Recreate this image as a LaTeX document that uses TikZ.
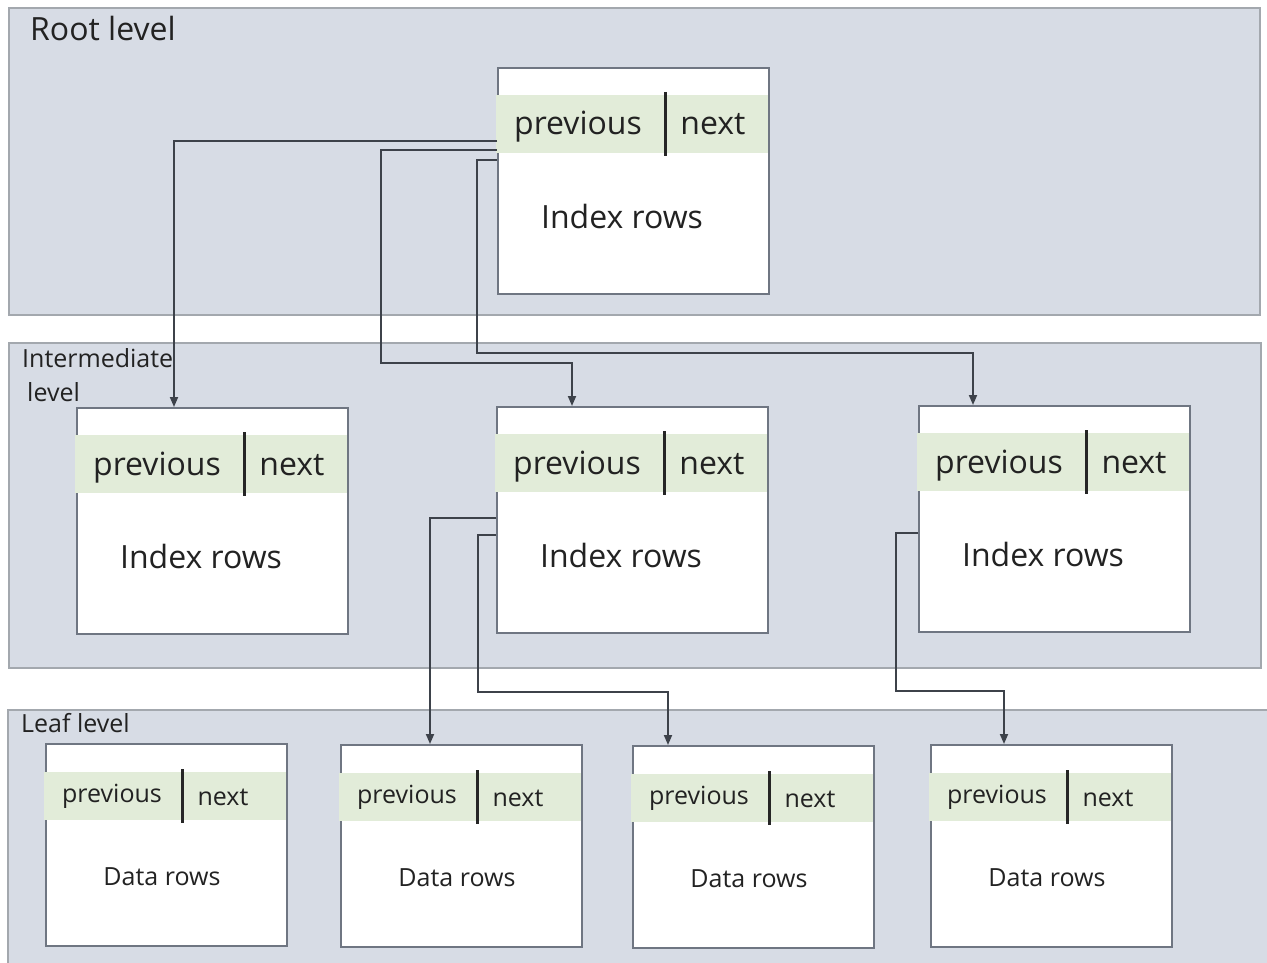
\documentclass[tikz,border=0pt]{standalone}
\usepackage{fontspec}
\setmainfont{Open Sans}
\usetikzlibrary{arrows.meta}
\definecolor{bandfill}{HTML}{D7DCE5}
\definecolor{bandline}{HTML}{A3A8AE}
\definecolor{boxline}{HTML}{6F7682}
\definecolor{stripgreen}{HTML}{E2ECD9}
\definecolor{txt}{HTML}{222222}
\definecolor{wire}{HTML}{3D424A}
\tikzset{
  band/.style={draw=bandline, line width=2, fill=bandfill},
  ibox/.style={draw=boxline, line width=1.8, fill=white, minimum width=271, minimum height=226, inner sep=0, anchor=north west},
  lbox/.style={draw=boxline, line width=1.8, fill=white, minimum width=241, minimum height=202, inner sep=0, anchor=north west},
  strip/.style={fill=stripgreen},
  divider/.style={draw=black!85, line width=3},
  bigtxt/.style={text=txt, font=\fontsize{32}{38}\selectfont, inner sep=0, text height=24pt, text depth=8pt},
  smalltxt/.style={text=txt, font=\fontsize{25}{30}\selectfont, inner sep=0, text height=19pt, text depth=6pt},
  leveltxt/.style={text=txt, inner sep=0, anchor=west},
  wirearrow/.style={draw=wire, line width=1.8, -{Triangle[length=10,width=8]}}
}
\newcommand\idxbox[3]{%
  \node[ibox] (#1) at (#2,#3) {};
  \fill[strip] ([xshift=-1.5,yshift=-28]#1.north west) rectangle ([xshift=-1.5,yshift=-86]#1.north east);
  \draw[divider] ([xshift=168,yshift=-25]#1.north west) -- ([xshift=168,yshift=-89]#1.north west);
  \node[bigtxt] (#1-prev) at ([xshift=81,yshift=-60]#1.north west) {previous};
  \node[bigtxt] (#1-next) at ([xshift=216,yshift=-60]#1.north west) {next};
  \node[bigtxt] (#1-body) at ([xshift=125,yshift=-153]#1.north west) {Index rows};
}
\newcommand\leafbox[3]{%
  \node[lbox] (#1) at (#2,#3) {};
  \fill[strip] ([xshift=-1.5,yshift=-29]#1.north west) rectangle ([xshift=-1.5,yshift=-77]#1.north east);
  \draw[divider] ([xshift=137,yshift=-26]#1.north west) -- ([xshift=137,yshift=-80]#1.north west);
  \node[smalltxt] (#1-prev) at ([xshift=67,yshift=-53]#1.north west) {previous};
  \node[smalltxt] (#1-next) at ([xshift=178,yshift=-56]#1.north west) {next};
  \node[smalltxt] (#1-body) at ([xshift=117,yshift=-136]#1.north west) {Data rows};
}
\begin{document}
\begin{tikzpicture}[x=1pt,y=-1pt]
\useasboundingbox (0,0) rectangle (1267,963);
\fill[white] (0,0) rectangle (1267,963);
% level bands
\draw[band] (9,8) rectangle (1260,315);
\draw[band] (9,343) rectangle (1261,668);
\draw[band] (8,710) rectangle (1280,980);
% level labels
\node[leveltxt, font=\fontsize{32}{38}\selectfont] (lroot) at (30,29) {Root level};
\node[text=txt, inner sep=0, anchor=north west, align=left, font=\fontsize{25}{34}\selectfont] (lint) at (22,348) {Intermediate\\\hspace*{5pt}level};
\node[leveltxt, font=\fontsize{25}{30}\selectfont] (lleaf) at (21,723) {Leaf level};
% pages
\idxbox{root}{497}{67}
\idxbox{int1}{76}{407}
\idxbox{int2}{496}{406}
\idxbox{int3}{918}{405}
\leafbox{leaf1}{45}{743}
\leafbox{leaf2}{340}{744}
\leafbox{leaf3}{632}{745}
\leafbox{leaf4}{930}{744}
% connectors
\draw[wirearrow] ([yshift=-74]root.north west) -| ([xshift=98]int1.north west);
\draw[wirearrow] ([yshift=-83]root.north west) -| (381,363) -| ([xshift=76]int2.north west);
\draw[wirearrow] ([yshift=-93]root.north west) -| (477,353) -| ([xshift=55]int3.north west);
\draw[wirearrow] ([yshift=-112]int2.north west) -| ([xshift=90]leaf2.north west);
\draw[wirearrow] ([yshift=-129]int2.north west) -| (478,692) -| ([xshift=36]leaf3.north west);
\draw[wirearrow] ([yshift=-128]int3.north west) -| (896,691) -| ([xshift=74]leaf4.north west);
\end{tikzpicture}
\end{document}
